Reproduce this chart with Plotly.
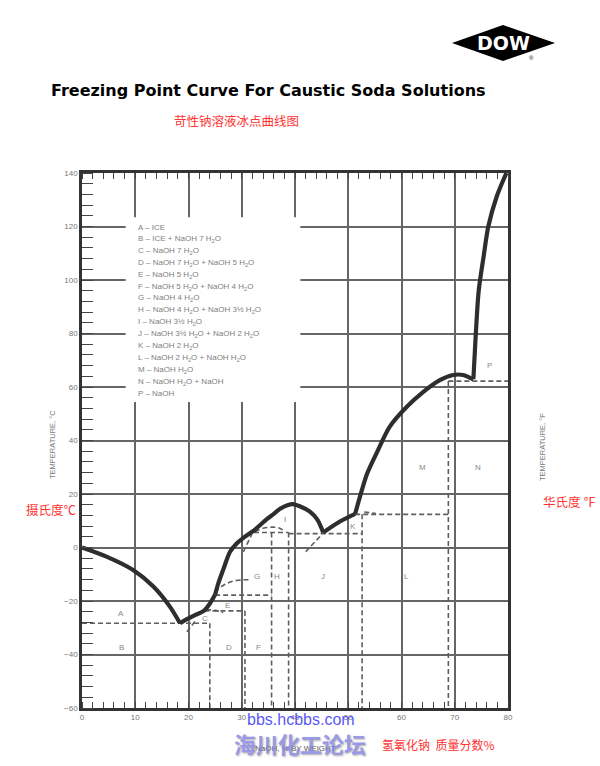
import plotly.graph_objects as go

# ---------------- data ----------------
# freezing-point curve branches (NaOH wt %, temperature degC)
ice_x = [0, 4.6, 9.6, 13.4, 16.5, 18.4]
ice_t = [0, -3.4, -8.4, -14.6, -22.1, -28.3]
hyd7_x = [18.4, 19.6, 21.3, 22.8, 24.0, 25.0]
hyd7_t = [-28.3, -26.9, -25.2, -23.8, -21.0, -17.6]
hyd4_x = [25.0, 25.6, 26.5, 27.8, 29.0, 30.3, 32.3, 34.7, 35.9, 37.2, 38.7, 39.6, 40.9, 42.8, 44.2, 45.3]
hyd4_t = [-17.6, -13.4, -8.4, -1.6, 1.4, 3.6, 6.4, 10.6, 12.4, 14.5, 15.9, 16.2, 15.4, 13.4, 10.4, 5.6]
hyd2_x = [45.3, 48.5, 51.3]
hyd2_t = [5.6, 9.8, 12.6]
hyd1_x = [51.3, 52.2, 53.5, 55.3, 57.8, 61.0, 64.1, 67.2, 69.7, 71.6, 72.5, 73.5]
hyd1_t = [12.6, 19.0, 27.4, 35.2, 45.2, 52.6, 58.2, 62.6, 64.5, 64.5, 63.8, 62.9]
naoh_x = [73.5, 73.9, 74.5, 75.4, 76.3, 77.9, 79.7]
naoh_t = [62.9, 78.0, 96.0, 108.5, 120.0, 131.3, 140.0]

# phase boundaries (dashed): [x list], [t list]
bound_x = [[0, 24.0], [24.0, 24.0], [23.0, 30.6], [30.6, 30.6], [25.0, 35.6], [35.6, 35.6],
           [32.3, 38.8], [38.8, 38.8], [38.8, 52.6], [52.6, 52.6], [51.3, 68.8], [68.8, 68.8],
           [68.8, 80]]
bound_t = [[-28.3, -28.3], [-28.3, -60], [-23.7, -23.7], [-23.7, -60], [-17.8, -17.8], [5.6, -60],
           [5.6, 5.6], [5.6, -60], [5.2, 5.2], [12.4, -60], [12.4, 12.4], [62.2, -60],
           [62.2, 62.2]]
# metastable extensions (dashed)
meta_x = [[19.7, 21.2], [23.3, 25.0, 26.5], [24.9, 26.5, 28.0, 30.0, 31.5],
          [30.3, 31.9], [32.5, 34.0, 35.7, 37.0, 38.2], [42.0, 45.0], [53.0, 55.2]]
meta_t = [[-31.5, -27.7], [-23.2, -23.5, -24.3], [-16.5, -14.2, -12.8, -12.1, -12.1],
          [-1.6, 5.0], [5.9, 7.2, 7.6, 7.3, 5.9], [-1.6, 4.8], [13.3, 12.7]]

region_labels = ["A", "B", "C", "D", "E", "F", "G", "H", "I", "J", "K", "L", "M", "N", "P"]
region_x = [7.4, 7.4, 23.1, 27.6, 27.4, 33.2, 32.9, 36.6, 38.1, 45.3, 50.9, 61.0, 64.0, 74.4, 76.6]
region_t = [-24.5, -37.2, -26.7, -37.2, -21.5, -37.2, -11.0, -11.0, 10.3, -11.0, 7.7, -11.0, 30.0, 30.0, 68.0]

legend_lines = [
    "A – ICE",
    "B – ICE + NaOH 7 H<sub>2</sub>O",
    "C – NaOH 7 H<sub>2</sub>O",
    "D – NaOH 7 H<sub>2</sub>O + NaOH 5 H<sub>2</sub>O",
    "E – NaOH 5 H<sub>2</sub>O",
    "F – NaOH 5 H<sub>2</sub>O + NaOH 4 H<sub>2</sub>O",
    "G – NaOH 4 H<sub>2</sub>O",
    "H – NaOH 4 H<sub>2</sub>O + NaOH 3½ H<sub>2</sub>O",
    "I – NaOH 3½ H<sub>2</sub>O",
    "J – NaOH 3½ H<sub>2</sub>O + NaOH 2 H<sub>2</sub>O",
    "K – NaOH 2 H<sub>2</sub>O",
    "L – NaOH 2 H<sub>2</sub>O + NaOH H<sub>2</sub>O",
    "M – NaOH H<sub>2</sub>O",
    "N – NaOH H<sub>2</sub>O + NaOH",
    "P – NaOH",
]

x_ticks = [0, 10, 20, 30, 40, 50, 60, 70, 80]
c_ticks = [-60, -40, -20, 0, 20, 40, 60, 80, 100, 120, 140]
f_ticks = [-60, -40, -20, 0, 20, 40, 60, 80, 100, 120, 140, 160, 180, 200, 220, 240, 260, 280]

# ---------------- figure ----------------
GRAY = "#777777"
FONT = "Liberation Sans, Arial, sans-serif"
CJK = "Noto Sans CJK SC"

fig = go.Figure()

for bx, bt in zip(bound_x, bound_t):
    fig.add_trace(go.Scatter(x=bx, y=bt, mode="lines",
                             line=dict(color="#5e5e5e", width=1.6, dash="5px,3px"),
                             hoverinfo="skip", showlegend=False))
for mx, mt in zip(meta_x, meta_t):
    fig.add_trace(go.Scatter(x=mx, y=mt, mode="lines",
                             line=dict(color="#5e5e5e", width=1.6, dash="5px,3px", shape="spline"),
                             hoverinfo="skip", showlegend=False))

for bx, bt in [(ice_x, ice_t), (hyd7_x, hyd7_t), (hyd4_x, hyd4_t),
               (hyd2_x, hyd2_t), (hyd1_x, hyd1_t), (naoh_x, naoh_t)]:
    fig.add_trace(go.Scatter(x=bx, y=bt, mode="lines",
                             line=dict(color="#2e2e2e", width=4.2, shape="spline", smoothing=0.8),
                             hoverinfo="skip", showlegend=False))

# region letters
for lab, rx, rt in zip(region_labels, region_x, region_t):
    fig.add_annotation(x=rx, y=rt, text=lab, showarrow=False,
                       font=dict(family=FONT, size=8, color="#888888"))

# legend text block (white box hides grid)
fig.add_shape(type="rect", xref="x", yref="y", x0=8.2, x1=41.0, y0=54.4, y1=123.5,
              fillcolor="white", line=dict(width=0), layer="between")
for i, line in enumerate(legend_lines):
    fig.add_annotation(x=10.1, y=119.7 - i * 4.435, text=line, showarrow=False,
                       xanchor="left", yanchor="middle",
                       font=dict(family=FONT, size=8, color="#808080"))

# ---------------- page texts ----------------
def px(x):
    return (x - 82) / 426.0

def py(y):
    return (708 - y) / 535.0

def page_text(x, y, text, font, **kw):
    fig.add_annotation(xref="paper", yref="paper", x=px(x), y=py(y), text=text,
                       showarrow=False, xanchor="center", yanchor="middle", font=font, **kw)

page_text(268.5, 91, "<b>Freezing Point Curve For Caustic Soda Solutions</b>",
          dict(family="DejaVu Sans", size=16, color="black"))
page_text(236, 121, "苛性钠溶液冰点曲线图", dict(family=CJK, size=12.5, color="#ff3333"))

# DOW logo
fig.add_shape(type="path", xref="paper", yref="paper",
              path=f"M {px(452)},{py(43)} L {px(503)},{py(25)} L {px(555)},{py(43)} L {px(503)},{py(61)} Z",
              fillcolor="black", line=dict(width=0))
page_text(503, 43, "<b>DOW</b>", dict(family="DejaVu Sans", size=19, color="white"))
page_text(531, 58, "®", dict(family=FONT, size=6, color="black"))

# axis titles
page_text(52, 445, "TEMPERATURE, °C", dict(family=FONT, size=7.5, color=GRAY), textangle=-90)
page_text(543, 447, "TEMPERATURE, °F", dict(family=FONT, size=7.5, color=GRAY), textangle=-90)
page_text(295, 748, "NaOH, % BY WEIGHT", dict(family=FONT, size=8, color="#555555"))

# red chinese notes
page_text(51, 509, "摄氏度℃", dict(family=CJK, size=12.5, color="#ff3333"))
page_text(569, 501, "华氏度 ℉", dict(family=CJK, size=12.5, color="#ff3333"))
page_text(438, 744, "氢氧化钠  质量分数%", dict(family=CJK, size=12, color="#ff3333"))

# watermark
page_text(301, 719, "bbs.hcbbs.com", dict(family=FONT, size=16, color="#5a5af5"))
page_text(300, 743, "<b>海川化工论坛</b>",
          dict(family=CJK, size=22, color="#8080e0", shadow="1px 1px 2px #999"), opacity=0.8)

fig.update_layout(
    width=600, height=766,
    margin=dict(l=82, r=92, t=173, b=58),
    paper_bgcolor="white", plot_bgcolor="white",
    showlegend=False,
    xaxis=dict(range=[0, 80], tickvals=x_ticks, showgrid=True, gridcolor="#666666", gridwidth=1.5,
               showline=True, linecolor="#333333", linewidth=2.6, mirror="allticks",
               ticks="", zeroline=False,
               minor=dict(dtick=2, tick0=0, ticks="inside", ticklen=6, tickwidth=1.3,
                          tickcolor="#444444", showgrid=False),
               tickfont=dict(family=FONT, size=8, color=GRAY)),
    yaxis=dict(range=[-60, 140], tickvals=c_ticks, showgrid=True, gridcolor="#666666", gridwidth=1.5,
               showline=True, linecolor="#333333", linewidth=2.6, mirror=True,
               ticks="", zeroline=False,
               minor=dict(dtick=4, tick0=0, ticks="inside", ticklen=11, tickwidth=1.4,
                          tickcolor="#444444", showgrid=False),
               tickfont=dict(family=FONT, size=8, color=GRAY)),
    yaxis2=dict(range=[-76, 284], overlaying="y", side="right", tickvals=f_ticks,
                showgrid=False, zeroline=False, showline=False,
                ticks="inside", ticklen=8, tickwidth=1.4, tickcolor="#444444",
                tickfont=dict(family=FONT, size=8, color=GRAY)),
)

fig.write_html("out.html")
